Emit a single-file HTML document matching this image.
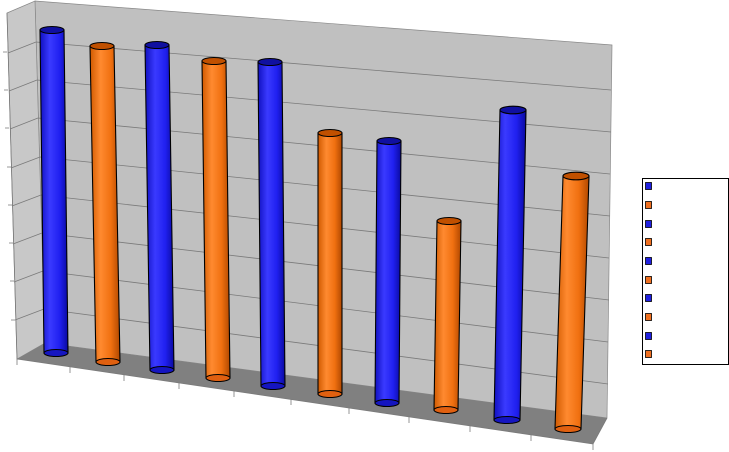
<!DOCTYPE html><html><head><style>body{margin:0;background:#fff}svg{display:block}</style></head><body>
<svg width="729" height="452" viewBox="0 0 729 452" xmlns="http://www.w3.org/2000/svg">
<defs>
<linearGradient id="b" x1="0" x2="1"><stop offset="0" stop-color="#1010c0"/><stop offset="0.35" stop-color="#3a3aff"/><stop offset="0.7" stop-color="#2020f0"/><stop offset="1" stop-color="#0a0aa0"/></linearGradient>
<linearGradient id="o" x1="0" x2="1"><stop offset="0" stop-color="#d05a00"/><stop offset="0.35" stop-color="#ff8a30"/><stop offset="0.7" stop-color="#f07010"/><stop offset="1" stop-color="#b04800"/></linearGradient>
</defs>
<polygon points="35,1 612,45 607,418 45,343" fill="#c0c0c0" stroke="#888" stroke-width="0.7"/>
<polygon points="7,13 35,1 45,343 17,359" fill="#c8c8c8" stroke="#888" stroke-width="0.7"/>
<polygon points="45,343 607,418 593,444 17,359" fill="#808080"/>
<g stroke="#7a7a7a" stroke-width="0.8" fill="none">
<path d="M36,42 L611,90 M37,80 L611,132 M38,118 L610,174 M40,157 L610,216 M41,195 L609,258 M42,233 L609,300 M43,271 L608,342 M44,309 L608,384"/>
<path d="M36,42 L8,53 M37,80 L9,91 M38,118 L10,129 M40,157 L11,168 M41,195 L12,206 M42,233 L13,244 M43,271 L14,282 M44,309 L15,320"/>
<path d="M17,359 L593,444 L607,418 M7,13 L17,359"/>
<path d="M17,359v6 M70,367v6 M124,375v6 M179,383v6 M234,391v6 M291,399v6 M349,408v6 M409,417v6 M470,426v6 M531,435v6 M593,444v6 M3,52h4 M4,90h4 M5,128h4 M7,167h4 M8,205h4 M9,243h4 M10,281h4 M11,320h4"/>
</g>
<g stroke="#000" stroke-width="1.1">
<path d="M40,30 L64,30 L68,353 L44,353 Z" fill="url(#b)"/><ellipse cx="56" cy="353" rx="12" ry="3.5" fill="#1515c0"/><ellipse cx="52" cy="30" rx="12" ry="3.5" fill="#1010a0"/>
<path d="M90,46 L114,46 L120,362 L96,362 Z" fill="url(#o)"/><ellipse cx="108" cy="362" rx="12" ry="3.5" fill="#e06010"/><ellipse cx="102" cy="46" rx="12" ry="3.5" fill="#c05000"/>
<path d="M145,45 L169,45 L174,370 L150,370 Z" fill="url(#b)"/><ellipse cx="162" cy="370" rx="12" ry="3.5" fill="#1515c0"/><ellipse cx="157" cy="45" rx="12" ry="3.5" fill="#1010a0"/>
<path d="M202,61 L226,61 L230,378 L206,378 Z" fill="url(#o)"/><ellipse cx="218" cy="378" rx="12" ry="3.5" fill="#e06010"/><ellipse cx="214" cy="61" rx="12" ry="3.5" fill="#c05000"/>
<path d="M258,62 L282,62 L285,386 L261,386 Z" fill="url(#b)"/><ellipse cx="273" cy="386" rx="12" ry="3.5" fill="#1515c0"/><ellipse cx="270" cy="62" rx="12" ry="3.5" fill="#1010a0"/>
<path d="M318,133 L342,133 L342,394 L318,394 Z" fill="url(#o)"/><ellipse cx="330" cy="394" rx="12" ry="3.5" fill="#e06010"/><ellipse cx="330" cy="133" rx="12" ry="3.5" fill="#c05000"/>
<path d="M377,141 L401,141 L399,403 L375,403 Z" fill="url(#b)"/><ellipse cx="387" cy="403" rx="12" ry="3.5" fill="#1515c0"/><ellipse cx="389" cy="141" rx="12" ry="3.5" fill="#1010a0"/>
<path d="M437,221 L461,221 L458,410 L434,410 Z" fill="url(#o)"/><ellipse cx="446" cy="410" rx="12" ry="3.5" fill="#e06010"/><ellipse cx="449" cy="221" rx="12" ry="3.5" fill="#c05000"/>
<path d="M500,110 L526,110 L520,420 L494,420 Z" fill="url(#b)"/><ellipse cx="507" cy="420" rx="13" ry="3.5" fill="#1515c0"/><ellipse cx="513" cy="110" rx="13" ry="3.8" fill="#1010a0"/>
<path d="M563,176 L589,176 L581,429 L555,429 Z" fill="url(#o)"/><ellipse cx="568" cy="429" rx="13" ry="3.5" fill="#e06010"/><ellipse cx="576" cy="176" rx="13" ry="3.8" fill="#c05000"/>
</g>
<rect x="642.5" y="178.5" width="86" height="186" fill="#fff" stroke="#000"/>
<g stroke="#000" stroke-width="0.8">
<rect x="645.5" y="182.5" width="6" height="7" fill="#2020e0"/>
<rect x="645.5" y="201.5" width="6" height="7" fill="#f07020"/>
<rect x="645.5" y="220.5" width="6" height="7" fill="#2020e0"/>
<rect x="645.5" y="238.5" width="6" height="7" fill="#f07020"/>
<rect x="645.5" y="257.5" width="6" height="7" fill="#2020e0"/>
<rect x="645.5" y="276.5" width="6" height="7" fill="#f07020"/>
<rect x="645.5" y="294.5" width="6" height="7" fill="#2020e0"/>
<rect x="645.5" y="313.5" width="6" height="7" fill="#f07020"/>
<rect x="645.5" y="332.5" width="6" height="7" fill="#2020e0"/>
<rect x="645.5" y="350.5" width="6" height="7" fill="#f07020"/>
</g>
</svg>
</body></html>
